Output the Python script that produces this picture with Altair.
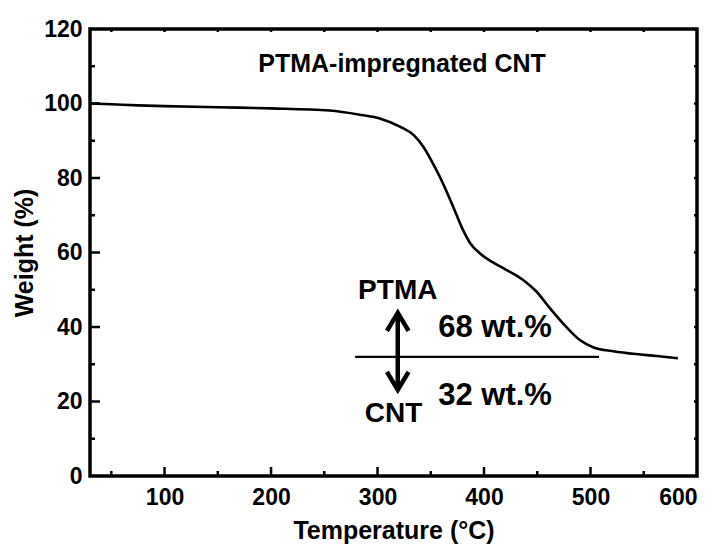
import altair as alt
import pandas as pd

# ---- data ----
temperature = [30, 50, 75, 100, 150, 200, 255, 285, 302, 321, 334, 343, 352, 362, 371,
               380, 387, 396, 408, 420, 431, 440, 449, 462, 477, 490, 503, 518, 540, 562, 582]
weight = [100.0, 99.8, 99.5, 99.3, 99.0, 98.7, 98.1, 96.9, 96.0, 93.8, 91.5, 88.4, 83.9, 78.2, 72.3,
          66.2, 62.5, 59.8, 57.4, 55.5, 53.7, 51.9, 49.6, 45.0, 40.1, 36.5, 34.5, 33.6, 32.8, 32.2, 31.6]

# reference line (CNT residue level)
ref_x = [279, 508]
ref_y = [32, 32]

# double arrow
arrow_x = [319, 319]
arrow_y = [23.1, 43.8]

# annotations (data coordinates)
ann_text = ["PTMA", "CNT", "68 wt.%", "32 wt.%"]
ann_x = [319, 315, 357, 357]
ann_y = [47.6, 14.4, 37.3, 19.1]
ann_align = ["center", "center", "left", "left"]

title_text = "PTMA-impregnated CNT"
title_x = 323
title_y = 108.5

x_major = [100, 200, 300, 400, 500]
x_minor = [50, 150, 250, 350, 450, 550]
y_major = [20, 40, 60, 80, 100]
y_minor = [10, 30, 50, 70, 90, 110]
y_right = [10, 20, 30, 40, 50, 60, 70, 80, 90, 100, 110]

W, H = 607, 447
FONT = "Liberation Sans"

xs = alt.Scale(domain=[30, 600], nice=False, zero=False)
ys = alt.Scale(domain=[0, 120], nice=False, zero=False)

curve_df = pd.DataFrame({"T": temperature, "W": weight})

base_x_axis = alt.Axis(values=[100, 200, 300, 400, 500, 600], ticks=False, domain=False, grid=False,
                       labelFont=FONT, labelFontWeight="bold", labelFontSize=23, labelColor="black",
                       labelPadding=10, title="Temperature (°C)", titleFont=FONT, titleFontWeight="bold",
                       titleFontSize=25, titleColor="black", titlePadding=9)
base_y_axis = alt.Axis(values=[0, 20, 40, 60, 80, 100, 120], ticks=False, domain=False, grid=False,
                       labelFont=FONT, labelFontWeight="bold", labelFontSize=23, labelColor="black",
                       labelPadding=8, title="Weight (%)", titleFont=FONT, titleFontWeight="bold",
                       titleFontSize=25, titleColor="black", titlePadding=6)

curve = alt.Chart(curve_df).mark_line(color="black", strokeWidth=2.6, interpolate="monotone").encode(
    x=alt.X("T:Q", scale=xs, axis=base_x_axis),
    y=alt.Y("W:Q", scale=ys, axis=base_y_axis),
)

ref_line = alt.Chart(pd.DataFrame({"T": ref_x, "W": ref_y})).mark_line(color="black", strokeWidth=2.2).encode(
    x=alt.X("T:Q", scale=xs), y=alt.Y("W:Q", scale=ys))

arrow_shaft = alt.Chart(pd.DataFrame({"T": arrow_x, "W": arrow_y})).mark_line(
    color="black", strokeWidth=4.5).encode(x=alt.X("T:Q", scale=xs), y=alt.Y("W:Q", scale=ys))

head_up = alt.Chart(pd.DataFrame({"T": [arrow_x[1]], "W": [arrow_y[1]]})).mark_point(
    shape="M-0.6,1L0,0L0.6,1", filled=False, color="black", strokeWidth=4.5, size=1300,
    strokeJoin="miter", opacity=1).encode(x=alt.X("T:Q", scale=xs), y=alt.Y("W:Q", scale=ys))
head_down = alt.Chart(pd.DataFrame({"T": [arrow_x[0]], "W": [arrow_y[0]]})).mark_point(
    shape="M-0.6,-1L0,0L0.6,-1", filled=False, color="black", strokeWidth=4.5, size=1300,
    strokeJoin="miter", opacity=1).encode(x=alt.X("T:Q", scale=xs), y=alt.Y("W:Q", scale=ys))

ann_df = pd.DataFrame({"text": ann_text, "T": ann_x, "W": ann_y, "align": ann_align})
ann_layers = []
for a in ["center", "left"]:
    sub = ann_df[ann_df["align"] == a]
    size = 28 if a == "center" else 31
    ann_layers.append(alt.Chart(sub).mark_text(font=FONT, fontWeight="bold", fontSize=size, align=a,
                                               baseline="alphabetic", color="black").encode(
        x=alt.X("T:Q", scale=xs), y=alt.Y("W:Q", scale=ys), text="text:N"))

title = alt.Chart(pd.DataFrame({"text": [title_text], "T": [title_x], "W": [title_y]})).mark_text(
    font=FONT, fontWeight="bold", fontSize=25, align="center", baseline="alphabetic", color="black").encode(
    x=alt.X("T:Q", scale=xs), y=alt.Y("W:Q", scale=ys), text="text:N")

def xticks(vals, y0, y1):
    return alt.Chart(pd.DataFrame({"T": vals})).mark_rule(color="black", strokeWidth=2.5).encode(
        x=alt.X("T:Q", scale=xs), y=alt.value(y0), y2=alt.value(y1))

def yticks(vals, x0, x1):
    return alt.Chart(pd.DataFrame({"W": vals})).mark_rule(color="black", strokeWidth=2.5).encode(
        y=alt.Y("W:Q", scale=ys), x=alt.value(x0), x2=alt.value(x1))

ticks = [
    xticks(x_major, H, H - 9), xticks(x_minor, H, H - 5),
    xticks(x_major + x_minor, 0, 3),
    yticks(y_major, 0, 10), yticks(y_minor, 0, 5),
    yticks(y_right, W, W - 3),
]

chart = alt.layer(curve, ref_line, arrow_shaft, head_up, head_down, *ann_layers, title, *ticks).properties(
    width=W, height=H, autosize="none", background="white",
    padding={"left": 82, "top": 21, "right": 12, "bottom": 70},
).configure_view(stroke="black", strokeWidth=3.5)

chart.save("out.html", embed_options={"renderer": "svg", "actions": False})
